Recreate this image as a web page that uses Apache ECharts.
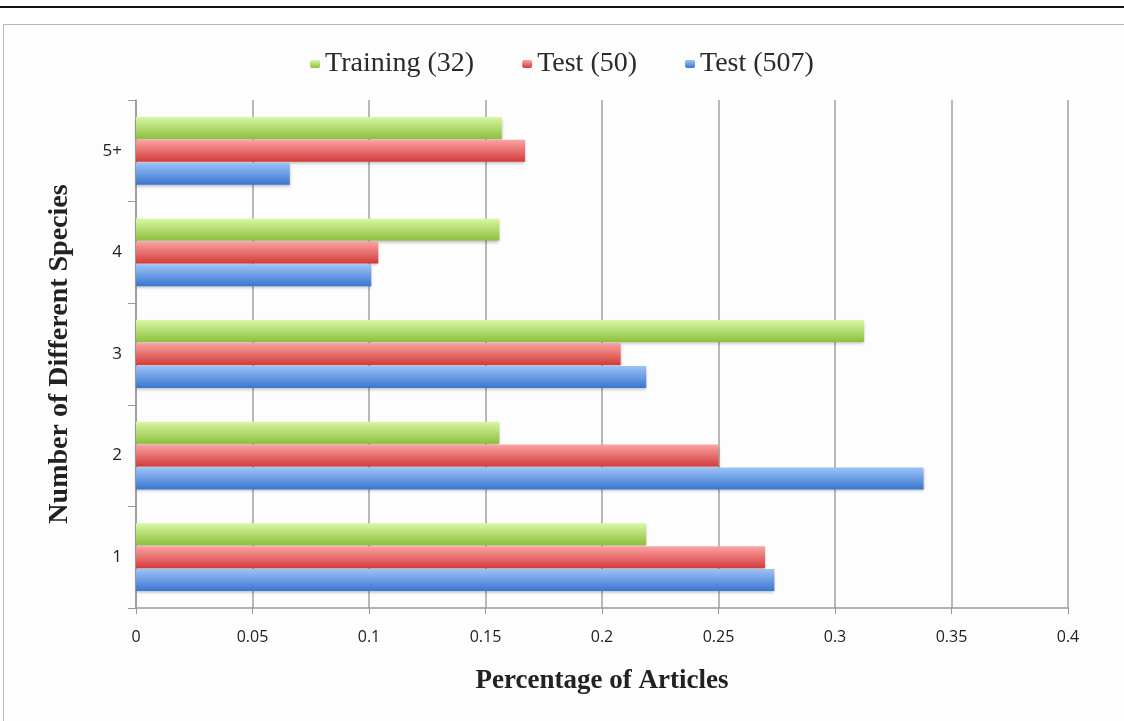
<!DOCTYPE html>
<html>
<head>
<meta charset="utf-8">
<script src="https://cdn.jsdelivr.net/npm/echarts@6/dist/echarts.min.js"></script>
<style>
html,body{margin:0;padding:0;background:#fff;}
#topline{position:absolute;left:0;top:6px;width:1124px;height:2px;background:#111;}
#frame{position:absolute;left:3px;top:24px;width:1130px;height:710px;border:1.5px solid #b8b8b8;background:#fdfdfd;box-sizing:border-box;}
#chart{position:absolute;left:0;top:0;width:1124px;height:721px;}
</style>
</head>
<body>
<div id="topline"></div>
<div id="frame"></div>
<div id="chart"></div>
<script>
const categories = ['1', '2', '3', '4', '5+'];
const xTicks = [0, 0.05, 0.1, 0.15, 0.2, 0.25, 0.3, 0.35, 0.4];
const test507 = [0.274, 0.338, 0.219, 0.101, 0.066];
const test50 = [0.270, 0.250, 0.208, 0.104, 0.167];
const training32 = [0.219, 0.156, 0.3125, 0.156, 0.157];
const seriesNames = ['Training (32)', 'Test (50)', 'Test (507)'];

function grad(top, bottom) {
  return new echarts.graphic.LinearGradient(0, 0, 0, 1, [
    {offset: 0, color: top}, {offset: 1, color: bottom}
  ]);
}
const barStyle = (t, b) => ({
  color: grad(t, b),
  shadowColor: 'rgba(0,0,0,0.25)', shadowBlur: 3, shadowOffsetY: 2
});

const chart = echarts.init(document.getElementById('chart'));
chart.setOption({
  backgroundColor: 'transparent',
  animation: false,
  legend: {
    data: seriesNames,
    top: 45, left: 'center',
    itemWidth: 10, itemHeight: 8, itemGap: 48, itemStyle: {shadowBlur: 0},
    textStyle: {fontFamily: 'Liberation Serif, DejaVu Serif, serif', fontSize: 28, color: '#2a2a2a'}
  },
  grid: {left: 136, right: 56, top: 100, bottom: 113},
  xAxis: {
    type: 'value', min: 0, max: 0.4, interval: 0.05,
    name: 'Percentage of Articles', nameLocation: 'middle', nameGap: 60,
    nameTextStyle: {fontFamily: 'Liberation Serif, DejaVu Serif, serif', fontWeight: 'bold', fontSize: 27, color: '#222'},
    axisLine: {show: true, lineStyle: {color: '#999', width: 1.5}},
    axisTick: {show: true, length: 6, lineStyle: {color: '#999'}},
    axisLabel: {
      margin: 21, fontFamily: 'Liberation Sans Narrow, Open Sans, sans-serif', fontSize: 16, color: '#222',
      formatter: v => String(xTicks.find(t => Math.abs(t - v) < 1e-9) ?? v)
    },
    splitLine: {show: true, lineStyle: {color: '#a0a0a0', width: 1.5}}
  },
  yAxis: {
    type: 'category', data: categories,
    name: 'Number of Different Species', nameLocation: 'middle', nameGap: 62,
    nameTextStyle: {fontFamily: 'Liberation Serif, DejaVu Serif, serif', fontWeight: 'bold', fontSize: 28, color: '#222'},
    axisLine: {show: true, lineStyle: {color: '#999', width: 1.5}},
    axisTick: {show: true, length: 8, lineStyle: {color: '#999'}},
    axisLabel: {margin: 14, fontFamily: 'Liberation Sans Narrow, Open Sans, sans-serif', fontSize: 17, color: '#222'}
  },
  series: [
    {name: 'Training (32)', type: 'bar', data: training32, barWidth: 22, barGap: '4%', barCategoryGap: '33%',
     itemStyle: barStyle('#d9f7a4', '#8dbf3c')},
    {name: 'Test (50)', type: 'bar', data: test50, barWidth: 22, barGap: '4%',
     itemStyle: barStyle('#fba3a3', '#d43b3b')},
    {name: 'Test (507)', type: 'bar', data: test507, barWidth: 22, barGap: '4%',
     itemStyle: barStyle('#9cc3f7', '#3a76cf')}
  ]
});
</script>
</body>
</html>
